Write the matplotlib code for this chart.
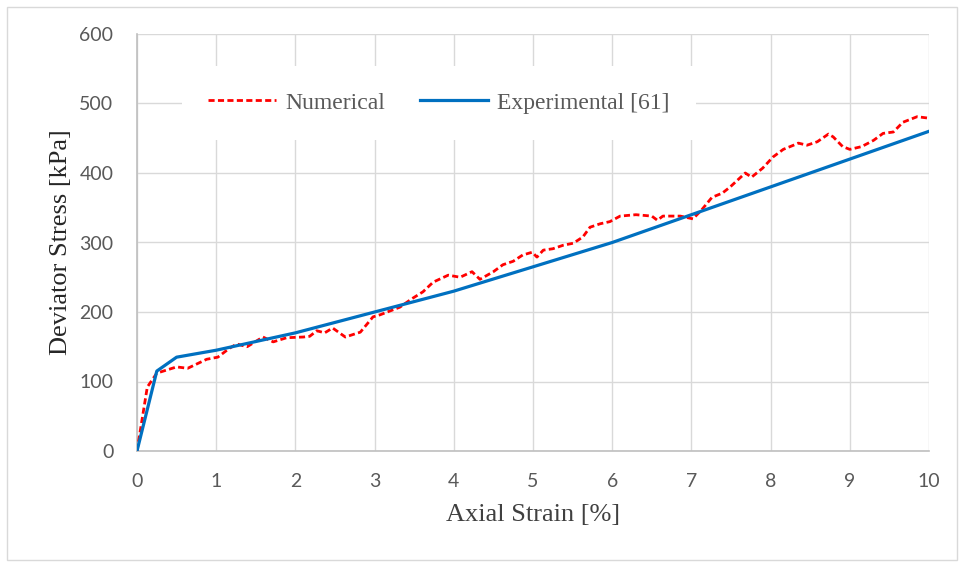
import matplotlib.pyplot as plt
from matplotlib.patches import Rectangle

# Experimental curve (axial strain %, deviator stress kPa)
exp_strain = [0, 0.25, 0.5, 1, 2, 3, 4, 5, 6, 7, 8, 9, 10]
exp_stress = [0, 115, 135, 145, 170, 200, 230, 265, 300, 340, 380, 420, 460]

# Numerical curve
num_strain = [0, 0.13, 0.25, 0.5, 0.64, 0.88, 1.02, 1.17, 1.26, 1.39, 1.59, 1.72,
              1.89, 2.1, 2.18, 2.27, 2.37, 2.47, 2.63, 2.82, 2.98, 3.07, 3.32,
              3.47, 3.61, 3.74, 3.93, 4.08, 4.23, 4.33, 4.5, 4.62, 4.75, 4.87,
              4.99, 5.05, 5.13, 5.25, 5.38, 5.51, 5.63, 5.72, 5.85, 5.97, 6.1,
              6.3, 6.5, 6.57, 6.64, 6.86, 7.02, 7.13, 7.26, 7.39, 7.49, 7.68,
              7.76, 7.9, 8.03, 8.16, 8.29, 8.35, 8.46, 8.59, 8.73, 8.79, 8.91,
              9.0, 9.15, 9.3, 9.42, 9.55, 9.67, 9.85, 9.99]
num_stress = [0, 92, 112, 121, 119, 132, 135, 148, 154, 150, 164, 157,
              163, 164, 165, 173, 170, 177, 164, 171, 193, 196, 207,
              219, 229, 243, 253, 250, 258, 247, 258, 268, 273, 282,
              286, 279, 289, 291, 296, 299, 308, 322, 327, 330, 338,
              340, 338, 332, 338, 338, 334, 347, 365, 371, 380, 400,
              394, 407, 423, 434, 440, 443, 440, 445, 456, 452, 438,
              434, 438, 447, 457, 459, 473, 481, 479]

fig = plt.figure(figsize=(9.63, 5.67), dpi=100)
fig.patches.append(Rectangle((7 / 963, 7 / 567), 950 / 963, 553 / 567,
                             transform=fig.transFigure, fill=False,
                             edgecolor='#d9d9d9', linewidth=1))
ax = fig.add_axes([137 / 963, 1 - 451 / 567, 792 / 963, 417 / 567])

ax.plot(num_strain, num_stress, color='#ff0000', linestyle=(0, (2.2, 1.2)),
        linewidth=2, label='Numerical', zorder=3)
ax.plot(exp_strain, exp_stress, color='#0070c0', linewidth=2.3,
        label='Experimental [61]', zorder=4)

ax.set_xlim(0, 10)
ax.set_ylim(0, 600)
ax.set_xticks(range(0, 11))
ax.set_yticks(range(0, 601, 100))
ax.grid(True, color='#d9d9d9', linewidth=1)
ax.set_axisbelow(True)

for s in ['top', 'right']:
    ax.spines[s].set_visible(False)
for s in ['left', 'bottom']:
    ax.spines[s].set_color('#bfbfbf')
    ax.spines[s].set_linewidth(1.2)

ax.tick_params(length=0, labelsize=14, labelcolor='#595959')
ax.tick_params(axis='x', pad=16)
ax.tick_params(axis='y', pad=17)
for lab in ax.get_xticklabels() + ax.get_yticklabels():
    lab.set_fontfamily('Lato')

ax.set_xlabel('Axial Strain [%]', fontfamily='Liberation Serif', fontsize=19,
              color='#404040', labelpad=10)
ax.set_ylabel('Deviator Stress [kPa]', fontfamily='Liberation Serif', fontsize=19,
              color='#262626', labelpad=5)

leg = ax.legend(loc='center', bbox_to_anchor=(0.381, 0.835), ncol=2,
                frameon=True, facecolor='white', edgecolor='none', fancybox=False,
                framealpha=1, handlelength=2.9, handletextpad=0.4,
                columnspacing=1.45, borderpad=1.1,
                prop={'family': 'Liberation Serif', 'size': 17})
for t in leg.get_texts():
    t.set_color('#595959')

fig.savefig('out.png', dpi=100)
